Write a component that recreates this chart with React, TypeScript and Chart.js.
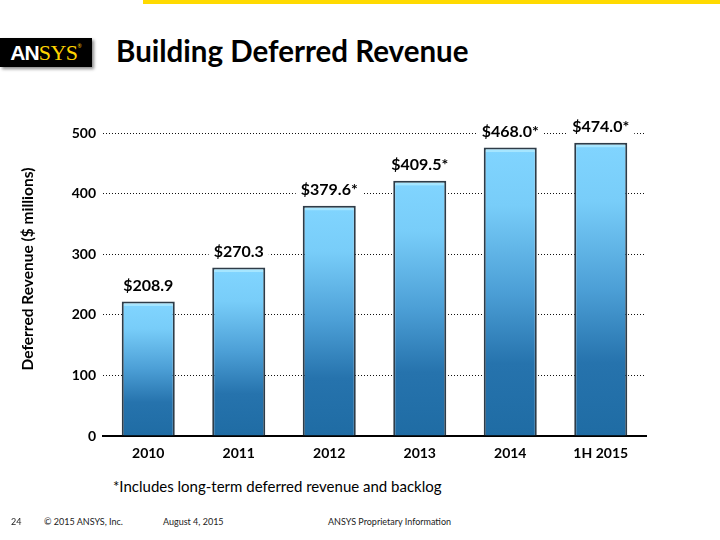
import React, { useEffect, useRef } from "react";
import { Chart, registerables } from "chart.js";

Chart.register(...registerables);

const categories = ["2010", "2011", "2012", "2013", "2014", "1H 2015"];
const barHeights = [222, 278, 380, 421, 476, 484];
const valueLabels = ["$208.9", "$270.3", "$379.6*", "$409.5*", "$468.0*", "$474.0*"];
const yMin = 0;
const yMax = 500;
const yStep = 100;

const FONT = "Lato, 'Open Sans', sans-serif";

const labelPlugin = {
  id: "valueLabels",
  afterDatasetsDraw(chart: any) {
    const meta = chart.getDatasetMeta(0);
    const c = chart.ctx;
    c.save();
    c.font = `bold 16px ${FONT}`;
    c.textAlign = "center";
    c.textBaseline = "middle";
    meta.data.forEach((el: any, i: number) => {
      const t = valueLabels[i];
      const w = c.measureText(t).width;
      const y = el.y - 16;
      c.fillStyle = "#ffffff";
      c.fillRect(el.x - w / 2 - 5, y - 9, w + 10, 18);
      c.fillStyle = "#000000";
      c.fillText(t, el.x, y);
    });
    c.restore();
  },
};

function barGradient(ctx: any) {
  const chart = ctx.chart;
  const { chartArea, scales } = chart;
  if (!chartArea || ctx.type !== "data" || !scales.y) return "#4a9ed6";
  const v = ctx.parsed ? ctx.parsed.y : ctx.raw;
  const top = scales.y.getPixelForValue(v);
  const bottom = scales.y.getPixelForValue(0);
  const g = chart.ctx.createLinearGradient(0, top, 0, bottom);
  const h = Math.max(1, bottom - top);
  const f = (px: number) => Math.min(1, px / h);
  g.addColorStop(0, "#a6e6ff");
  g.addColorStop(f(4), "#a6e6ff");
  g.addColorStop(f(5), "#80d4fe");
  g.addColorStop(0.2, "#78cdf9");
  g.addColorStop(0.5, "#4c9fd6");
  g.addColorStop(0.75, "#2673ad");
  g.addColorStop(1, "#1f6ca4");
  return g;
}

function ChartView() {
  const ref = useRef<HTMLCanvasElement | null>(null);
  useEffect(() => {
    if (!ref.current) return;
    const chart = new Chart(ref.current, {
      type: "bar",
      data: {
        labels: categories,
        datasets: [
          {
            data: barHeights,
            backgroundColor: barGradient as any,
            borderColor: "#2e3c48",
            borderWidth: 2,
            barPercentage: 0.586,
            categoryPercentage: 1,
          },
        ],
      },
      options: {
        responsive: false,
        animation: false,
        devicePixelRatio: 1,
        layout: { padding: { top: 33, right: 74, left: 0, bottom: 0 } },
        plugins: { legend: { display: false }, tooltip: { enabled: false }, title: { display: false } },
        scales: {
          x: {
            grid: { display: false, drawTicks: false },
            border: { display: true, color: "#000000", width: 2 },
            ticks: {
              color: "#000000",
              font: { family: FONT, size: 14, weight: "bold" },
              padding: 9,
              maxRotation: 0,
            },
            afterFit: (s: any) => {
              s.height = 34;
            },
          },
          y: {
            min: yMin,
            max: yMax,
            ticks: {
              stepSize: yStep,
              color: "#000000",
              font: { family: FONT, size: 14, weight: "bold" },
              padding: 7,
            },
            grid: { color: "#111111", lineWidth: 1, drawTicks: false },
            border: { display: false, dash: [1, 2] },
            afterFit: (s: any) => {
              s.width = 103;
            },
          },
        },
      } as any,
      plugins: [labelPlugin],
    });
    return () => chart.destroy();
  }, []);
  return (
    <canvas
      ref={ref}
      width={720}
      height={370}
      style={{ position: "absolute", left: 0, top: 100, width: 720, height: 370 }}
    />
  );
}

export default function App() {
  return (
    <div
      style={{
        position: "fixed",
        left: 0,
        top: 0,
        width: 720,
        height: 540,
        background: "#ffffff",
        overflow: "hidden",
        fontFamily: FONT,
      }}
    >
      <div style={{ position: "absolute", left: 143, top: 0, width: 577, height: 4, background: "#ffda00" }} />
      <div
        style={{
          position: "absolute",
          left: 0,
          top: 38,
          width: 92,
          height: 29,
          background: "#000000",
          boxShadow: "2px 2px 3px #8a8a8a",
          display: "flex",
          alignItems: "center",
          justifyContent: "center",
          lineHeight: 1,
        }}
      >
        <span style={{ color: "#ffffff", fontFamily: "'Liberation Sans', sans-serif", fontWeight: "bold", fontSize: 21, letterSpacing: -1 }}>
          AN
        </span>
        <span style={{ color: "#ffd400", fontFamily: "'Liberation Serif', serif", fontSize: 22, letterSpacing: -0.5 }}>
          SYS
        </span>
        <span style={{ color: "#ffd400", fontSize: 5, alignSelf: "flex-start", marginTop: 6 }}>®</span>
      </div>
      <div
        style={{
          position: "absolute",
          left: 116,
          top: 36,
          fontSize: 29.5,
          fontWeight: "bold",
          lineHeight: 1,
          color: "#000000",
          whiteSpace: "nowrap",
        }}
      >
        Building Deferred Revenue
      </div>
      <ChartView />
      <div
        style={{
          position: "absolute",
          left: 28,
          top: 269,
          transform: "translate(-50%, -50%) rotate(-90deg)",
          fontSize: 15.5,
          fontWeight: "bold",
          color: "#000000",
          whiteSpace: "nowrap",
          lineHeight: 1,
        }}
      >
        Deferred Revenue ($ millions)
      </div>
      <div
        style={{
          position: "absolute",
          left: 113,
          top: 479,
          fontSize: 15,
          color: "#000000",
          whiteSpace: "nowrap",
          lineHeight: 1,
        }}
      >
        *Includes long-term deferred revenue and backlog
      </div>
      <div style={{ position: "absolute", left: 11, top: 517, fontSize: 9, color: "#222", whiteSpace: "nowrap", lineHeight: 1 }}>24</div>
      <div style={{ position: "absolute", left: 44, top: 517, fontSize: 9, color: "#222", whiteSpace: "nowrap", lineHeight: 1 }}>
        © 2015 ANSYS, Inc.
      </div>
      <div style={{ position: "absolute", left: 163, top: 517, fontSize: 9, color: "#222", whiteSpace: "nowrap", lineHeight: 1 }}>
        August 4, 2015
      </div>
      <div style={{ position: "absolute", left: 328, top: 517, fontSize: 9, color: "#222", whiteSpace: "nowrap", lineHeight: 1 }}>
        ANSYS Proprietary Information
      </div>
    </div>
  );
}
